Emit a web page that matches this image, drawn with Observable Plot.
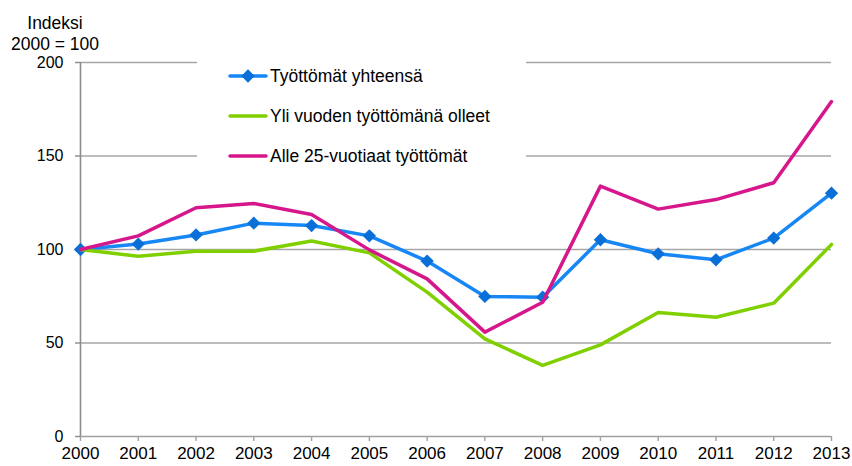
<!DOCTYPE html>
<html><head><meta charset="utf-8">
<script src="https://cdn.jsdelivr.net/npm/d3@7"></script>
<script src="https://cdn.jsdelivr.net/npm/@observablehq/plot@0.6"></script>
<style>body{margin:0;background:#fff;} svg{display:block}</style>
</head><body><div id="chart"></div>
<script>
const years = [2000,2001,2002,2003,2004,2005,2006,2007,2008,2009,2010,2011,2012,2013];
const total    = [100,102.9,107.8,114.1,112.8,107.3,93.8,74.9,74.5,105.2,97.7,94.5,106.1,130.1];
const longTerm = [100,96.4,99.1,99.1,104.5,98.2,77.2,52.2,38.0,49.0,66.3,63.8,71.3,102.7];
const youth    = [100,107.3,122.3,124.6,118.7,99.8,84.3,55.8,71.8,133.9,121.6,126.7,135.7,179.1];
const seriesNames = ["Työttömät yhteensä","Yli vuoden työttömänä olleet","Alle 25-vuotiaat työttömät"];
const seriesColors = ["#1787f5","#80d000","#d6168b"];
const markerColor = "#0a6fd6";
const yTicks = [0,50,100,150,200];
const yTitle = ["Indeksi","2000 = 100"];

const seriesValues = [total,longTerm,youth];
const tables = seriesValues.map((vals,i)=>years.map((y,j)=>({year:y,value:vals[j],series:seriesNames[i]})));

const font = "'Liberation Sans', Arial, sans-serif";
const lineOpts = (i)=>({x:"year",y:"value",stroke:seriesColors[i],strokeWidth:3.5,strokeLinejoin:"round",strokeLinecap:"round"});

const plot = Plot.plot({
  width:852,height:466,marginLeft:80,marginRight:21,marginTop:62,marginBottom:30,
  style:{fontFamily:font,fontSize:"16px",color:"#000",background:"#fff"},
  x:{domain:[2000,2013]},
  y:{domain:[0,200]},
  marks:[
    Plot.gridY(yTicks.filter(d=>d>0),{stroke:"#a6a6a6",strokeOpacity:1,strokeWidth:1.4}),
    Plot.ruleX([2000],{stroke:"#8c8c8c",strokeWidth:1.6}),
    Plot.ruleY([0],{stroke:"#a0a0a0",strokeWidth:1.6}),
    Plot.axisY(yTicks,{tickSize:5,tickPadding:12,stroke:"#8c8c8c",strokeWidth:1.4,fill:"#000",fontSize:16,label:null}),
    Plot.axisX(years,{tickSize:5,tickPadding:5,tickFormat:d=>String(d),stroke:"#a0a0a0",strokeWidth:1.4,fill:"#000",fontSize:17,label:null}),
    Plot.line(tables[0],lineOpts(0)),
    Plot.dot(tables[0],{x:"year",y:"value",symbol:"diamond2",r:6,fill:markerColor,stroke:null}),
    Plot.line(tables[1],lineOpts(1)),
    Plot.line(tables[2],lineOpts(2))
  ]
});
document.getElementById("chart").append(plot);

const svg = d3.select(plot);
// axis title
const t = svg.append("text").attr("font-family",font).attr("font-size",17.5).attr("fill","#000").attr("text-anchor","middle");
t.append("tspan").attr("x",55).attr("y",29).text(yTitle[0]);
t.append("tspan").attr("x",55).attr("y",50).text(yTitle[1]);

// legend
const lg = svg.append("g").attr("text-anchor","start");
lg.append("rect").attr("x",197).attr("y",50).attr("width",329).attr("height",125).attr("fill","#fff");
const rowsY = [76,116,156];
seriesNames.forEach((name,i)=>{
  lg.append("line").attr("x1",230).attr("x2",266).attr("y1",rowsY[i]).attr("y2",rowsY[i])
    .attr("stroke",seriesColors[i]).attr("stroke-width",3.5).attr("stroke-linecap","round");
  if(i===0){
    lg.append("path").attr("d",d3.symbol(d3.symbolDiamond2, Math.PI*36)()).attr("transform",`translate(248,${rowsY[i]})`).attr("fill",markerColor);
  }
  lg.append("text").attr("x",270).attr("y",rowsY[i]).attr("dy","0.35em").attr("text-anchor","start").attr("font-family",font).attr("font-size",17.5).attr("fill","#000").text(name);
});
</script>
</body></html>
